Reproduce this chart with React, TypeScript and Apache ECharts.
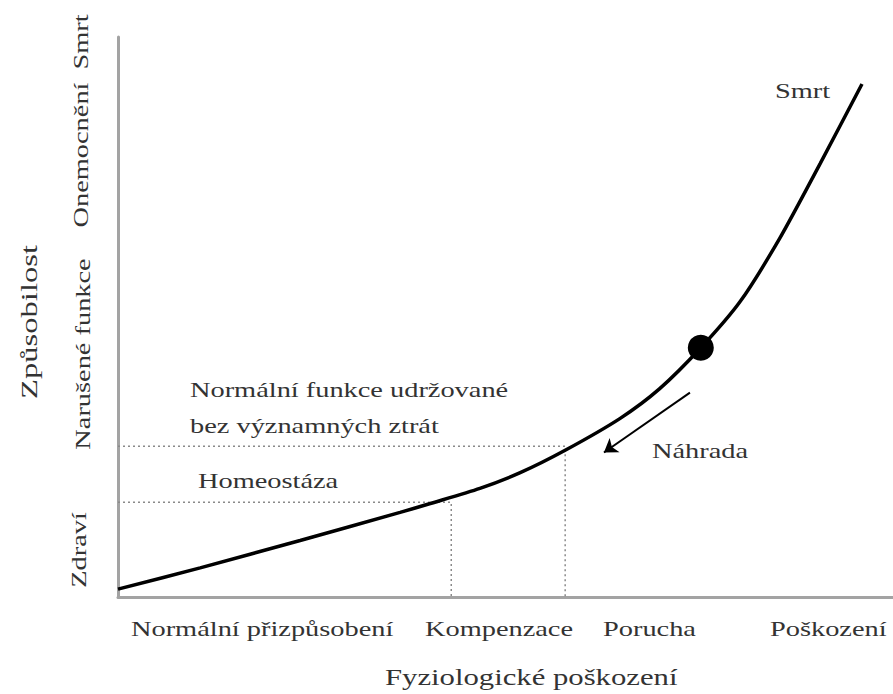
import React, { useEffect, useRef } from "react";
import * as echarts from "echarts";

// Curve (x: physiological damage 0-100, y: fitness 0-100)
const curveX = [0, 10.6, 23.5, 36.4, 40.3, 46.7, 51.9, 57.7, 64.8, 69.9, 75.2, 80.3, 85.4, 90.6, 96.0];
const curveY = [1.4, 5.2, 10.1, 15.1, 16.7, 19.4, 22.2, 26.2, 31.9, 37.2, 44.5, 52.8, 64.1, 77.4, 91.6];
const homeostasisLevel = 16.9;
const normalFunctionLevel = 26.9;
const compensationX = 43.0;
const failureX = 57.7;
const pointX = [75.2];
const pointY = [44.5];
const arrowX = [73.8, 62.7];
const arrowY = [36.5, 25.8];
const xCategoryLabels = ["Normální přizpůsobení", "Kompenzace", "Porucha", "Poškození"];
const yCategoryLabels = ["Zdraví", "Narušené funkce", "Onemocnění", "Smrt"];

const FONT = "Liberation Serif";
const TXT = "#333333";
const SX = 1.29;

const txt = (text: string, x: number, y: number, size = 22, sx = SX) => ({
  type: "text",
  x,
  y,
  scaleX: sx,
  style: { text, fontFamily: FONT, fontSize: size, fill: TXT, align: "left", verticalAlign: "middle" },
});
const rot = (text: string, x: number, y: number, size = 22, sx = SX) => ({
  type: "text",
  x,
  y,
  rotation: Math.PI / 2,
  scaleX: sx,
  style: { text, fontFamily: FONT, fontSize: size, fill: TXT, align: "center", verticalAlign: "middle" },
});

export default function App() {
  const ref = useRef<HTMLDivElement>(null);
  useEffect(() => {
    document.body.style.margin = "0";
    if (!ref.current) return;
    const chart = echarts.init(ref.current, null, { renderer: "svg" });
    const dotted = { type: [2, 3] as any, color: "#8a8a8a", width: 1.5 };
    chart.setOption({
      animation: false,
      backgroundColor: "#ffffff",
      grid: { left: 118, right: 0, top: 37, bottom: 97 },
      xAxis: {
        type: "value",
        min: 0,
        max: 100,
        axisLine: { show: true, lineStyle: { color: "#a3a3a3", width: 3 } },
        axisTick: { show: false },
        axisLabel: { show: false },
        splitLine: { show: false },
      },
      yAxis: {
        type: "value",
        min: 0,
        max: 100,
        axisLine: { show: true, lineStyle: { color: "#a3a3a3", width: 3 } },
        axisTick: { show: false },
        axisLabel: { show: false },
        splitLine: { show: false },
      },
      series: [
        {
          type: "line",
          data: [[0, normalFunctionLevel], [failureX, normalFunctionLevel], [failureX, 0]],
          symbol: "none",
          lineStyle: dotted,
          silent: true,
        },
        {
          type: "line",
          data: [[0, homeostasisLevel], [compensationX, homeostasisLevel], [compensationX, 0]],
          symbol: "none",
          lineStyle: dotted,
          silent: true,
        },
        {
          type: "line",
          data: curveX.map((x, i) => [x, curveY[i]]),
          smooth: 0.25,
          symbol: "none",
          lineStyle: { color: "#000", width: 3.5 },
        },
        {
          type: "lines",
          coordinateSystem: "cartesian2d",
          data: [{ coords: arrowX.map((x, i) => [x, arrowY[i]]) }],
          symbol: ["none", "arrow"],
          symbolSize: 13,
          lineStyle: { color: "#000", width: 2, opacity: 1 },
        },
        {
          type: "scatter",
          data: pointX.map((x, i) => [x, pointY[i]]),
          symbolSize: 26,
          itemStyle: { color: "#000", opacity: 1 },
        },
      ],
      graphic: [
        txt(xCategoryLabels[0], 131, 628),
        txt(xCategoryLabels[1], 425, 628),
        txt(xCategoryLabels[2], 603, 628),
        txt(xCategoryLabels[3], 770, 628),
        txt("Fyziologické poškození", 385, 677, 24, 1.28),
        rot(yCategoryLabels[0], 78, 550),
        rot(yCategoryLabels[1], 82, 354),
        rot(yCategoryLabels[2], 80, 155),
        rot(yCategoryLabels[3], 80, 42),
        rot("Způsobilost", 29, 322, 24, 1.36),
        txt("Normální funkce udržované", 190, 389),
        txt("bez významných ztrát", 190, 425),
        txt("Homeostáza", 198, 480),
        txt("Náhrada", 652, 450),
        txt("Smrt", 775, 90),
      ],
    });
    return () => chart.dispose();
  }, []);
  return <div ref={ref} style={{ width: 893, height: 694 }} />;
}
